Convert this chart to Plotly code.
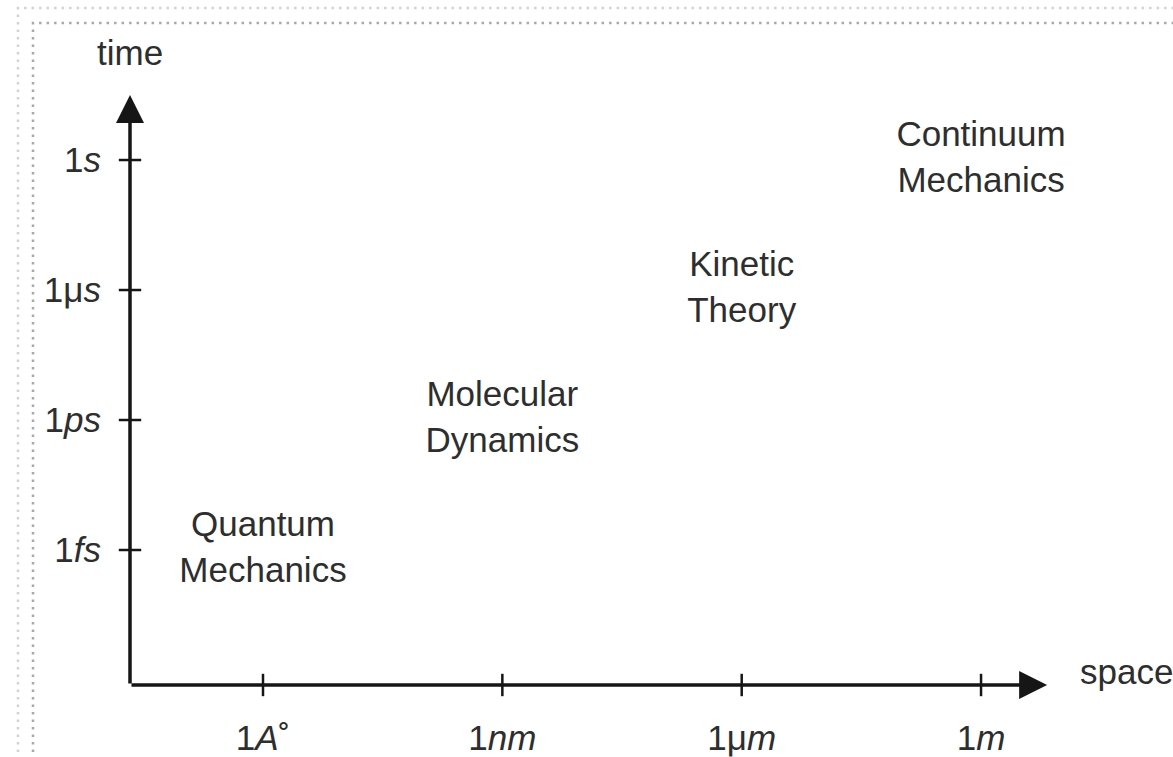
import plotly.graph_objects as go

# Scale labels along each axis (evenly spaced, index positions 0..3)
space_labels = ["1<i>A</i>˚", "1<i>nm</i>", "1μ<i>m</i>", "1<i>m</i>"]
time_labels = ["1<i>fs</i>", "1<i>ps</i>", "1μ<i>s</i>", "1<i>s</i>"]
tick_pos = [0, 1, 2, 3]

# Modelling regimes and the (space, time) scale they sit at
regimes = ["Quantum<br>Mechanics", "Molecular<br>Dynamics", "Kinetic<br>Theory", "Continuum<br>Mechanics"]
regime_space = [0, 1, 2, 3]
regime_time = [0, 1, 2, 3]

W, H = 1173, 757
X_RANGE = [-0.5557, 3.802]
Y_RANGE = [-1.0385, 4.231]
X_TIP, Y_TIP = 3.276, 3.5

AXIS_COLOR = "#161616"
TEXT_COLOR = "#2e2e2e"
FONT = "Liberation Sans, Arial, sans-serif"
FS = 35

fig = go.Figure()

# regime labels
fig.add_trace(go.Scatter(
    x=regime_space, y=regime_time, mode="text", text=regimes,
    textposition="middle center",
    textfont=dict(family=FONT, size=FS, color=TEXT_COLOR),
    hoverinfo="skip", showlegend=False, cliponaxis=False,
))

# tick marks crossing the space axis
fig.add_trace(go.Scatter(
    x=tick_pos, y=[Y_RANGE[0]] * len(tick_pos), mode="markers",
    marker=dict(symbol="line-ns", size=16, line=dict(width=2.5, color=AXIS_COLOR)),
    hoverinfo="skip", showlegend=False, cliponaxis=False,
))
# tick marks crossing the time axis
fig.add_trace(go.Scatter(
    x=[X_RANGE[0]] * len(tick_pos), y=tick_pos, mode="markers",
    marker=dict(symbol="line-ew", size=16, line=dict(width=2.5, color=AXIS_COLOR)),
    hoverinfo="skip", showlegend=False, cliponaxis=False,
))

# axis arrows
arrow = dict(showarrow=True, arrowhead=2, arrowsize=1.6, arrowwidth=3.5,
             arrowcolor=AXIS_COLOR, axref="x", ayref="y", text="")
fig.add_annotation(x=X_TIP, y=Y_RANGE[0], ax=X_RANGE[0], ay=Y_RANGE[0], **arrow)
fig.add_annotation(x=X_RANGE[0], y=Y_TIP, ax=X_RANGE[0], ay=Y_RANGE[0], **arrow)

# axis titles
fig.add_annotation(x=X_RANGE[0], y=3.83, text="time", showarrow=False,
                   xanchor="center", yanchor="middle",
                   font=dict(family=FONT, size=FS, color=TEXT_COLOR))
fig.add_annotation(x=3.405, y=-0.938, text="space", showarrow=False,
                   xanchor="left", yanchor="middle",
                   font=dict(family=FONT, size=FS, color=TEXT_COLOR))

# dotted frames
fig.add_shape(type="rect", xref="paper", yref="paper",
              x0=18 / W, x1=1.02, y0=-0.02, y1=1 - 8 / H,
              line=dict(color="#d2d2d2", width=2.5, dash="2.5px,5px"))
fig.add_shape(type="rect", xref="paper", yref="paper",
              x0=33 / W, x1=1.02, y0=-0.02, y1=1 - 23 / H,
              line=dict(color="#a9a9a9", width=2.5, dash="2.5px,5px"))

fig.update_xaxes(
    domain=[130 / W, 1], range=X_RANGE, tickvals=tick_pos, ticktext=space_labels,
    showgrid=False, zeroline=False, showline=False, ticks="",
    ticklabelstandoff=29,
    tickfont=dict(family=FONT, size=FS, color=TEXT_COLOR),
)
fig.update_yaxes(
    domain=[(H - 685) / H, 1], range=Y_RANGE, tickvals=tick_pos, ticktext=time_labels,
    showgrid=False, zeroline=False, showline=False, ticks="",
    ticklabelstandoff=28,
    tickfont=dict(family=FONT, size=FS, color=TEXT_COLOR),
)
fig.update_layout(
    width=W, height=H, margin=dict(l=0, r=0, t=0, b=0),
    paper_bgcolor="white", plot_bgcolor="white",
)

fig.write_html("out.html")
